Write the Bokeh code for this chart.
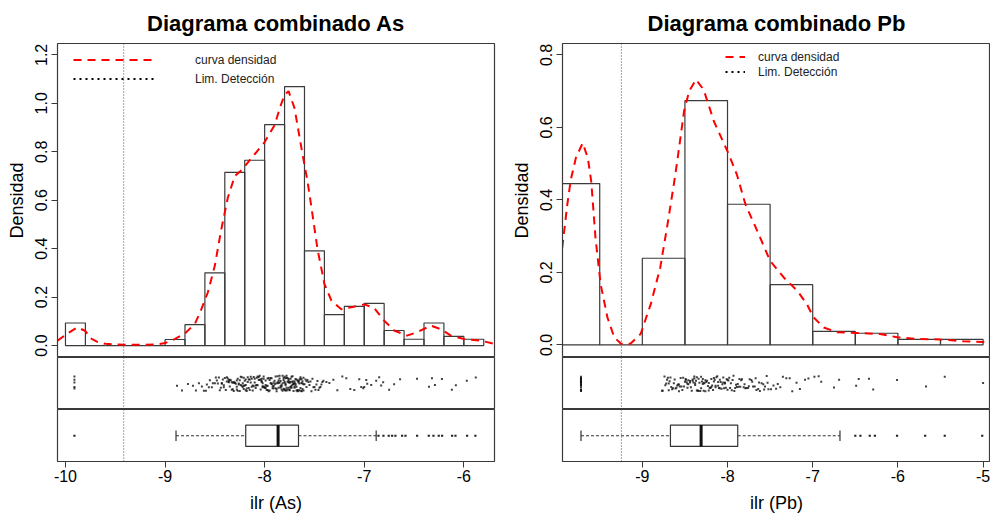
from bokeh.plotting import figure
from bokeh.layouts import row, column
from bokeh.models import (Range1d, ColumnDataSource, Span, Legend, LegendItem,
                          FixedTicker, PrintfTickFormatter)
from bokeh.transform import jitter
from bokeh.embed import file_html
from bokeh.resources import INLINE

FONT = "Liberation Sans"
INK = "#3a3a3a"

# ---------------- As ----------------
as_title = "Diagrama combinado As"
as_xlabel = "ilr (As)"
as_bin_edges = [-10.0, -9.8, -9.6, -9.4, -9.2, -9.0, -8.8, -8.6, -8.4, -8.2, -8.0,
                -7.8, -7.6, -7.4, -7.2, -7.0, -6.8, -6.6, -6.4, -6.2, -6.0, -5.8]
as_density = [0.093, 0, 0, 0, 0, 0.025, 0.086, 0.300, 0.715, 0.765, 0.912,
              1.069, 0.391, 0.128, 0.162, 0.174, 0.062, 0.026, 0.093, 0.038, 0.026]
as_kde_x = [-10.08, -9.98, -9.88, -9.80, -9.75, -9.68, -9.60, -9.50, -9.40, -9.30,
            -9.20, -9.10, -9.00, -8.90, -8.80, -8.70, -8.64, -8.57, -8.50, -8.44,
            -8.37, -8.30, -8.23, -8.13, -8.00, -7.90, -7.84, -7.80, -7.76, -7.70,
            -7.62, -7.57, -7.53, -7.47, -7.40, -7.33, -7.23, -7.13, -7.00, -6.90,
            -6.80, -6.70, -6.57, -6.47, -6.33, -6.23, -6.13, -6.00, -5.83, -5.69]
as_kde_y = [0.020, 0.050, 0.075, 0.060, 0.030, 0.015, 0.007, 0.004, 0.003, 0.003,
            0.003, 0.004, 0.010, 0.027, 0.050, 0.090, 0.145, 0.220, 0.330, 0.470,
            0.610, 0.700, 0.725, 0.775, 0.840, 0.910, 0.990, 1.035, 1.050, 0.980,
            0.790, 0.680, 0.570, 0.400, 0.255, 0.185, 0.150, 0.158, 0.170, 0.155,
            0.103, 0.062, 0.041, 0.055, 0.082, 0.067, 0.041, 0.027, 0.020, 0.007]
as_lod = -9.415
as_yticks = [0.0, 0.2, 0.4, 0.6, 0.8, 1.0, 1.2]
as_xticks = [-10, -9, -8, -7, -6]
as_box = [-8.89, -8.19, -7.865, -7.66, -6.88]   # min, q1, median, q3, max
as_outliers = [-9.91, -6.857, -6.807, -6.754, -6.72, -6.687, -6.62, -6.586, -6.469,
               -6.352, -6.305, -6.252, -6.218, -6.118, -6.084, -5.967, -5.884]
as_strip = [-9.91, -9.91, -9.91, -9.91, -9.91,
            -8.88, -8.83,
            -8.77, -8.72, -8.69, -8.66, -8.63, -8.61,
            -8.59, -8.58, -8.56, -8.55, -8.53, -8.52, -8.50, -8.49, -8.47, -8.46, -8.44,
            -8.43, -8.42, -8.41,
            -8.40, -8.39, -8.38, -8.37, -8.36, -8.36, -8.35, -8.34, -8.33, -8.32, -8.31,
            -8.31, -8.30, -8.29, -8.28, -8.28, -8.27, -8.26, -8.25, -8.25, -8.24, -8.23,
            -8.23, -8.22, -8.21, -8.21, -8.20, -8.20,
            -8.19, -8.19, -8.18, -8.17, -8.16, -8.16, -8.15, -8.14, -8.13, -8.13, -8.12,
            -8.11, -8.10, -8.10, -8.09, -8.08, -8.07, -8.07, -8.06, -8.05, -8.05, -8.04,
            -8.03, -8.03, -8.02, -8.02, -8.01, -8.01, -8.00, -8.00,
            -7.99, -7.99, -7.98, -7.97, -7.97, -7.96, -7.95, -7.95, -7.94, -7.93, -7.93,
            -7.92, -7.91, -7.91, -7.90, -7.89, -7.89, -7.88, -7.87, -7.87, -7.86, -7.86,
            -7.85, -7.85, -7.84, -7.84, -7.83, -7.83, -7.82, -7.82, -7.81, -7.81, -7.80,
            -7.80, -7.80, -7.80,
            -7.79, -7.79, -7.78, -7.78, -7.78, -7.77, -7.77, -7.76, -7.76, -7.76, -7.75,
            -7.75, -7.74, -7.74, -7.74, -7.73, -7.73, -7.72, -7.72, -7.72, -7.71, -7.71,
            -7.70, -7.70, -7.69, -7.69, -7.68, -7.68, -7.67, -7.67, -7.66, -7.66, -7.65,
            -7.65, -7.64, -7.64, -7.63, -7.63, -7.62, -7.62, -7.61, -7.61,
            -7.59, -7.58, -7.57, -7.56, -7.54, -7.53, -7.52, -7.50, -7.49, -7.47, -7.46,
            -7.45, -7.43, -7.42, -7.41,
            -7.38, -7.35, -7.31, -7.27, -7.22,
            -7.18, -7.14, -7.10, -7.05, -7.03, -7.01, -7.00,
            -6.98, -6.97, -6.93, -6.88, -6.85, -6.83, -6.81,
            -6.75, -6.70, -6.64,
            -6.47,
            -6.35, -6.32, -6.29, -6.22,
            -6.12, -6.08,
            -5.97, -5.88,
            -8.45, -8.43, -8.38, -8.35, -8.33, -8.30, -8.27, -8.24, -8.22, -8.19, -8.17,
            -8.15, -8.12, -8.09, -8.06, -8.04, -8.02, -7.99, -7.97, -7.94, -7.92, -7.90,
            -7.88, -7.86, -7.84, -7.83, -7.81, -7.79, -7.78, -7.77, -7.75, -7.73, -7.72,
            -7.70, -7.69, -7.67, -7.66, -7.64, -7.63, -7.61, -7.60, -7.58, -7.55, -7.51,
            -7.48, -7.44, -8.36, -8.28, -8.21, -8.14, -8.08, -8.01, -7.96, -7.91, -7.87,
            -7.82, -7.80, -7.76, -7.74, -7.71, -7.68, -7.65, -7.62, -8.48, -8.41, -8.32,
            -8.26, -8.18, -8.11, -8.03, -7.98, -7.93, -7.89, -7.85, -7.79, -7.75, -7.70,
            -7.66, -7.63]

# ---------------- Pb ----------------
pb_title = "Diagrama combinado Pb"
pb_xlabel = "ilr (Pb)"
pb_bin_edges = [-10.0, -9.5, -9.0, -8.5, -8.0, -7.5, -7.0, -6.5, -6.0, -5.5, -5.0]
pb_density = [0.445, 0, 0.239, 0.674, 0.388, 0.166, 0.037, 0.032, 0.015, 0.015]
pb_kde_x = [-9.94, -9.88, -9.84, -9.78, -9.70, -9.64, -9.60, -9.55, -9.49, -9.41,
            -9.33, -9.25, -9.14, -9.02, -8.90, -8.79, -8.71, -8.63, -8.59, -8.51,
            -8.45, -8.37, -8.28, -8.16, -8.00, -7.89, -7.79, -7.65, -7.50, -7.34,
            -7.18, -7.07, -6.99, -6.87, -6.72, -6.48, -6.21, -6.01, -5.78, -5.51,
            -5.23, -5.00, -4.89]
pb_kde_y = [0.268, 0.388, 0.455, 0.516, 0.557, 0.516, 0.452, 0.296, 0.168, 0.076,
            0.021, 0.003, 0.003, 0.030, 0.113, 0.213, 0.324, 0.443, 0.507, 0.645,
            0.700, 0.732, 0.704, 0.617, 0.534, 0.470, 0.388, 0.314, 0.232, 0.186,
            0.149, 0.113, 0.076, 0.048, 0.035, 0.033, 0.030, 0.021, 0.016, 0.015,
            0.010, 0.008, 0.005]
pb_lod = -9.246
pb_yticks = [0.0, 0.2, 0.4, 0.6, 0.8]
pb_xticks = [-9, -8, -7, -6, -5]
pb_box = [-9.72, -8.67, -8.31, -7.88, -6.68]
pb_outliers = [-6.50, -6.44, -6.33, -6.27, -6.01, -5.68, -5.45, -5.01]
pb_strip = [-9.72, -9.72, -9.72, -9.72, -9.72, -9.72, -9.72, -9.72, -9.72, -9.72,
            -9.72, -9.72, -9.72, -9.72, -9.72, -9.72, -9.72, -9.72, -9.72, -9.72,
            -8.77, -8.76, -8.74, -8.72, -8.71, -8.69, -8.68, -8.66, -8.65, -8.63,
            -8.62, -8.61, -8.59, -8.57, -8.56, -8.54, -8.53, -8.51,
            -8.50, -8.49, -8.47, -8.47, -8.46, -8.44, -8.43, -8.42, -8.41, -8.40,
            -8.39, -8.38, -8.36, -8.36, -8.35, -8.34, -8.33, -8.31, -8.31, -8.30,
            -8.29, -8.28, -8.26, -8.26, -8.25, -8.23, -8.22, -8.21, -8.20, -8.19,
            -8.18, -8.17, -8.16, -8.14, -8.14, -8.12, -8.11, -8.10, -8.09, -8.07,
            -8.06, -8.05, -8.04, -8.03, -8.02, -8.01, -8.00, -8.00,
            -7.99, -7.97, -7.96, -7.93, -7.92, -7.90, -7.89, -7.86, -7.85, -7.83,
            -7.81, -7.80, -7.78, -7.75, -7.74, -7.72, -7.70, -7.67, -7.66, -7.64,
            -7.62, -7.60, -7.57, -7.56, -7.53, -7.52,
            -7.49, -7.46, -7.43, -7.41, -7.38, -7.35, -7.31, -7.27, -7.24, -7.19,
            -7.15, -7.09, -7.05,
            -6.98, -6.93, -6.90, -6.75, -6.69,
            -6.49, -6.46, -6.34, -6.29, -6.01,
            -5.67,
            -5.45, -5.00,
            -8.73, -8.70, -8.67, -8.64, -8.60, -8.57, -8.55, -8.52, -8.49, -8.46,
            -8.44, -8.41, -8.39, -8.37, -8.34, -8.32, -8.29, -8.27, -8.24, -8.22,
            -8.19, -8.16, -8.13, -8.11, -8.08, -8.05, -8.03, -7.98, -7.95, -7.91,
            -7.88, -7.84, -7.79, -7.76, -7.71, -7.68, -7.63, -7.58, -7.54, -8.69,
            -8.58, -8.48, -8.38, -8.28, -8.15, -8.09, -7.94, -7.87]

# ---------------- layout constants (ref-pixel derived) ----------------
AS_XRANGE = (-10.080, -5.692)
AS_YRANGE = (-0.0494, 1.2469)
PB_XRANGE = (-9.937, -4.913)
PB_YRANGE = (-0.0349, 0.8316)


def style_common(p):
    p.xgrid.visible = False
    p.ygrid.visible = False
    p.outline_line_color = INK
    p.outline_line_width = 1.2
    p.background_fill_color = "white"
    p.border_fill_color = "white"


def make_panel(title, xlabel, xrange, yrange, edges, dens, kx, ky, lod, yticks, xticks,
               box, outl, strip, width, bl, br, leg_xy, glyph_w, leg_standoff, item_h):
    xr = Range1d(*xrange)
    # ---------- histogram ----------
    h = figure(width=width, height=357, x_range=xr, y_range=Range1d(*yrange),
               output_backend="svg", toolbar_location=None, x_axis_location=None,
               min_border_left=bl, min_border_right=br, min_border_top=42,
               min_border_bottom=0)
    style_common(h)
    h.title.text = title
    h.title.align = "center"
    h.title.text_font = FONT
    h.title.text_font_size = "22px"
    h.title.text_font_style = "bold"
    h.title.text_color = "black"
    h.title.standoff = 16
    h.quad(left=edges[:-1], right=edges[1:], bottom=0, top=dens,
           fill_color=None, line_color=INK, line_width=1.2)
    r_kde = h.line(kx, ky, line_color="red", line_dash="8 6", line_width=2)
    r_lod = h.line([lod], [0], line_color="black", line_dash="2 4", line_width=2)
    h.add_layout(Span(location=lod, dimension="height", line_color="#444",
                      line_dash="1 2", line_width=1))
    ya = h.yaxis[0]
    ya.ticker = FixedTicker(ticks=yticks)
    ya.formatter = PrintfTickFormatter(format="%.1f")
    ya.bounds = (yticks[0], yticks[-1])
    ya.major_label_orientation = "vertical"
    ya.axis_label = "Densidad"
    ya.axis_label_text_font = FONT
    ya.axis_label_text_font_size = "18px"
    ya.axis_label_text_font_style = "normal"
    ya.axis_label_text_color = "black"
    ya.axis_label_standoff = 6
    ya.major_label_text_font = FONT
    ya.major_label_text_font_size = "16px"
    ya.major_label_text_color = "black"
    ya.major_label_standoff = 4
    ya.major_tick_out = 6
    ya.major_tick_in = 0
    ya.minor_tick_out = 0
    ya.minor_tick_in = 0
    ya.axis_line_color = INK
    ya.major_tick_line_color = INK
    leg = Legend(items=[LegendItem(label="curva densidad", renderers=[r_kde]),
                        LegendItem(label="Lim. Detección", renderers=[r_lod])],
                 location=leg_xy, glyph_width=glyph_w, glyph_height=item_h,
                 label_height=item_h, label_standoff=leg_standoff, spacing=0,
                 padding=0, margin=0, border_line_color=None,
                 background_fill_alpha=0, label_text_font=FONT,
                 label_text_font_size="12px", label_text_color="#222")
    h.add_layout(leg)

    # ---------- strip chart ----------
    s = figure(width=width, height=52, x_range=xr, y_range=Range1d(0, 1),
               output_backend="svg", toolbar_location=None, x_axis_location=None,
               y_axis_location=None, min_border_left=bl, min_border_right=br,
               min_border_top=0, min_border_bottom=0)
    style_common(s)
    src = ColumnDataSource(dict(x=strip, y=[0.5] * len(strip)))
    s.scatter(x="x", y=jitter("y", width=0.3), source=src, marker="square",
              size=2, line_color=None, fill_color="#111", fill_alpha=0.8)
    s.add_layout(Span(location=lod, dimension="height", line_color="#444",
                      line_dash="1 2", line_width=1))

    # ---------- boxplot ----------
    b = figure(width=width, height=106, x_range=xr, y_range=Range1d(0, 1),
               output_backend="svg", toolbar_location=None, y_axis_location=None,
               min_border_left=bl, min_border_right=br, min_border_top=0,
               min_border_bottom=53)
    style_common(b)
    lo, q1, med, q3, hi = box
    yc, bh, st = 0.495, 0.205, 0.1
    b.segment(x0=[lo, q3], y0=[yc, yc], x1=[q1, hi], y1=[yc, yc],
              line_color="#333", line_dash="3 2", line_width=1)
    b.segment(x0=[lo, hi], y0=[yc - st, yc - st], x1=[lo, hi], y1=[yc + st, yc + st],
              line_color="#333", line_width=1.2)
    b.quad(left=[q1], right=[q3], bottom=[yc - bh], top=[yc + bh],
           fill_color="white", line_color="#333", line_width=1.2)
    b.segment(x0=[med], y0=[yc - bh], x1=[med], y1=[yc + bh],
              line_color="#111", line_width=3)
    b.scatter(x=outl, y=[yc] * len(outl), marker="square", size=2.2,
              line_color=None, fill_color="#222")
    b.add_layout(Span(location=lod, dimension="height", line_color="#444",
                      line_dash="1 2", line_width=1))
    xa = b.xaxis[0]
    xa.ticker = FixedTicker(ticks=xticks)
    xa.formatter = PrintfTickFormatter(format="%d")
    xa.bounds = (xticks[0], xticks[-1])
    xa.axis_label = xlabel
    xa.axis_label_text_font = FONT
    xa.axis_label_text_font_size = "18px"
    xa.axis_label_text_font_style = "normal"
    xa.axis_label_text_color = "black"
    xa.axis_label_standoff = 8
    xa.major_label_text_font = FONT
    xa.major_label_text_font_size = "16px"
    xa.major_label_text_color = "black"
    xa.major_label_standoff = 2
    xa.major_tick_out = 6
    xa.major_tick_in = 0
    xa.minor_tick_out = 0
    xa.minor_tick_in = 0
    xa.axis_line_color = INK
    xa.major_tick_line_color = INK
    return column(h, s, b, spacing=0)


left = make_panel(as_title, as_xlabel, AS_XRANGE, AS_YRANGE, as_bin_edges, as_density,
                  as_kde_x, as_kde_y, as_lod, as_yticks, as_xticks, as_box, as_outliers,
                  as_strip, width=508, bl=57, br=14, leg_xy=(16, 269),
                  glyph_w=82, leg_standoff=40, item_h=19)
right = make_panel(pb_title, pb_xlabel, PB_XRANGE, PB_YRANGE, pb_bin_edges, pb_density,
                   pb_kde_x, pb_kde_y, pb_lod, pb_yticks, pb_xticks, pb_box, pb_outliers,
                   pb_strip, width=482, bl=53, br=0, leg_xy=(163, 278),
                   glyph_w=20, leg_standoff=13, item_h=15)

layout = row(left, right, spacing=0)
open("out.html", "w").write(file_html(layout, INLINE))
